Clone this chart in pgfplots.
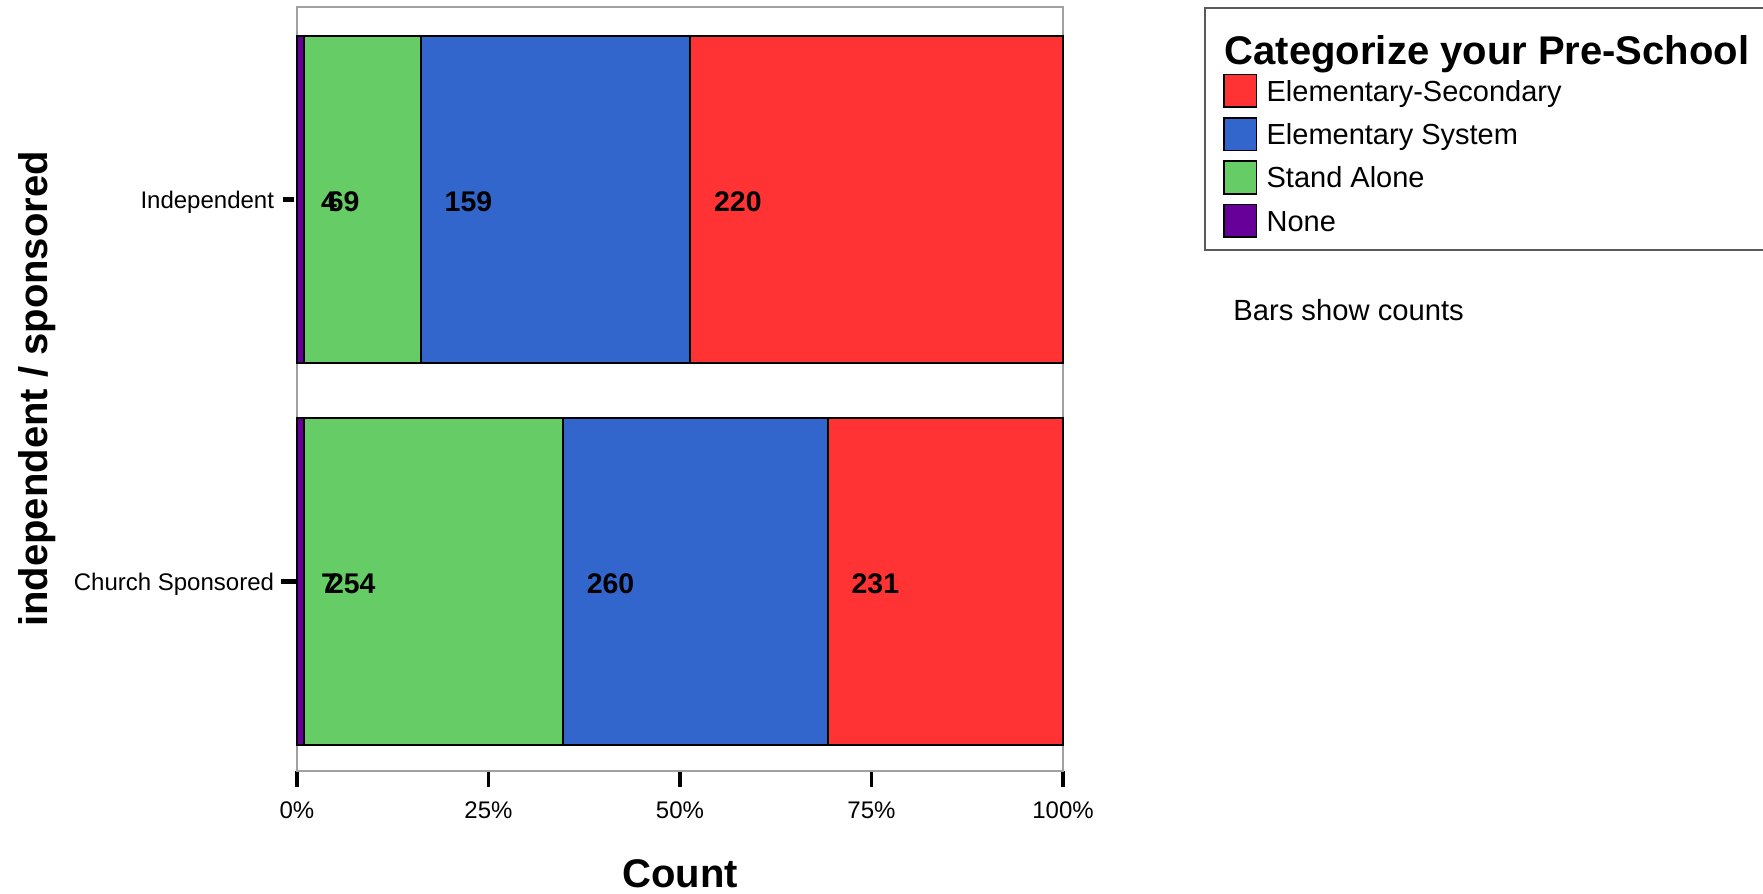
\documentclass[border=0pt]{standalone}
\usepackage{pgfplots}
\pgfplotsset{compat=1.18}
\usepackage{fontspec}
\setmainfont{Liberation Sans}
\definecolor{cnone}{HTML}{660099}
\definecolor{cstand}{HTML}{66CC66}
\definecolor{celem}{HTML}{3366CC}
\definecolor{ces}{HTML}{FF3333}
\definecolor{frame}{RGB}{160,160,160}
\definecolor{lframe}{RGB}{90,90,90}
\begin{document}
\begin{tikzpicture}
\path[use as bounding box] (0,0) rectangle (881.5pt,447pt);
\begin{axis}[
  at={(148.5pt,61.5pt)}, anchor=south west,
  scale only axis, width=383pt, height=382pt,
  xbar stacked, bar width=163.5pt,
  xmin=0, xmax=100, ymin=-0.496, ymax=1.504,
  enlarge x limits=false, enlarge y limits=false,
  clip=false,
  xtick={0,25,50,75,100}, xticklabels={0\%,25\%,50\%,75\%,100\%},
  ytick={0,1}, yticklabels={Church Sponsored,Independent},
  xtick pos=bottom, ytick pos=left,
  tick align=outside, major tick length=8pt,
  xtick style={black, line width=1.8pt},
  ytick style={black, line width=2.4pt, shorten <=0.8pt, shorten >=1.7pt},
  axis line style={draw=frame, line width=0.7pt},
  ticklabel style={font=\fontsize{12}{14}\selectfont, inner sep=0pt},
  xticklabel style={text height=8.6pt, text depth=0pt, anchor=north, yshift=-7pt},
  yticklabel style={text height=11pt, text depth=2.4pt, anchor=east, xshift=-3.3pt},
  xlabel={Count}, ylabel={independent / sponsored},
  xlabel style={at={(axis description cs:0.5,-0.1346)}, anchor=center, font=\fontsize{20}{24}\selectfont\bfseries},
  ylabel style={at={(axis description cs:-0.3394,0.5)}, anchor=center, font=\fontsize{20}{24}\selectfont\bfseries},
  reverse legend,
  legend cell align=left,
  legend image code/.code={\draw[#1, line width=0.9pt] (0pt,-8.15pt) rectangle (16.3pt,8.15pt);},
  legend style={at={(1.1841,1)}, anchor=north west, draw=lframe, line width=1pt,
    inner xsep=9pt, inner ysep=6.05pt, column sep=4.6pt, row sep=4.45pt,
    font=\fontsize{14.5}{17}\selectfont,
    nodes={inner sep=0pt, text height=13pt, text depth=2.6pt}},
]
\addplot[fill=cnone, draw=black, line width=0.9pt] coordinates {(0.9309,0) (0.8850,1)};
\addlegendentry{None}
\addplot[fill=cstand, draw=black, line width=0.9pt] coordinates {(33.7766,0) (15.2655,1)};
\addlegendentry{Stand Alone}
\addplot[fill=celem, draw=black, line width=0.9pt] coordinates {(34.5745,0) (35.1770,1)};
\addlegendentry{Elementary System}
\addplot[fill=ces, draw=black, line width=0.9pt] coordinates {(30.7181,0) (48.6726,1)};
\addlegendentry{Elementary-Secondary}
\addlegendimage{empty legend}
\addlegendentry[text height=22.35pt, text depth=0pt]{\hspace*{-20.9pt}\fontsize{20}{24}\selectfont\bfseries Categorize your Pre-School}
\node[anchor=base west, inner sep=0pt, font=\fontsize{14.6}{17}\selectfont] at (rel axis cs:1.2219,0.5897) {Bars show counts};
\end{axis}
\begin{axis}[
  at={(148.5pt,61.5pt)}, anchor=south west,
  scale only axis, width=383pt, height=382pt,
  xmin=0, xmax=100, ymin=-0.496, ymax=1.504,
  hide axis, clip=false,
]
\addplot[draw=none, mark=none, nodes near coords, point meta=explicit symbolic,
  nodes near coords style={anchor=base west, inner sep=0pt, xshift=11.8pt, yshift=-5.8pt,
    font=\fontsize{14.2}{17}\selectfont\bfseries, text=black}]
  table[meta=lab] {
x y lab
0 1 4
0.8850 1 69
16.1504 1 159
51.3274 1 220
0 0 7
0.9309 0 254
34.7074 0 260
69.2819 0 231
};
\end{axis}
\end{tikzpicture}
\end{document}
